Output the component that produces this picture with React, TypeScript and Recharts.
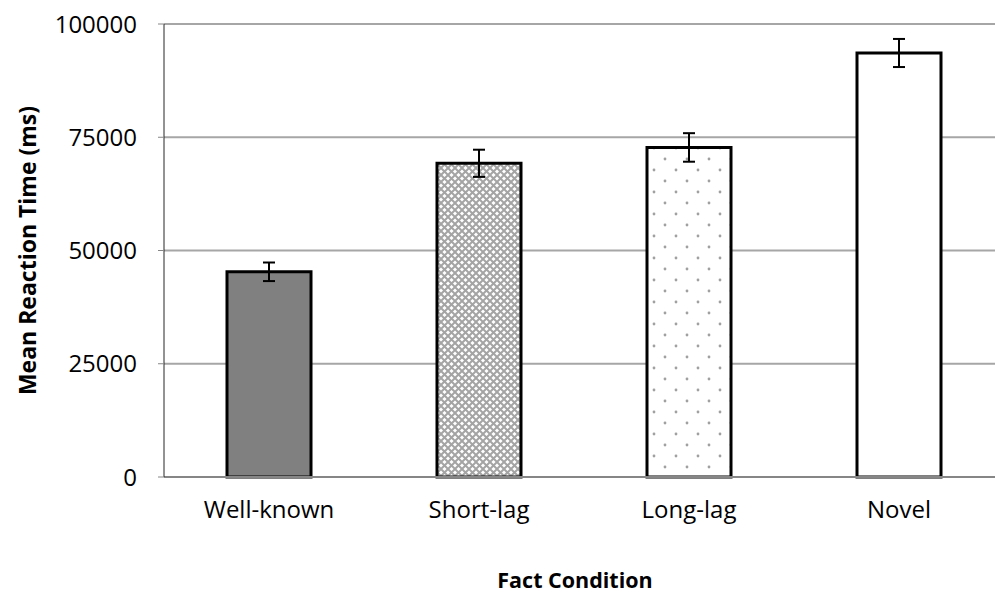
import { Bar, BarChart, CartesianGrid, Cell, ErrorBar, XAxis, YAxis } from 'recharts';

const conditions = ['Well-known', 'Short-lag', 'Long-lag', 'Novel'];
const meanRt = [45300, 69250, 72750, 93600];
const rtError = [2050, 3000, 3150, 3100];
const yTicks = [0, 25000, 50000, 75000, 100000];

const fills = ['#808080', 'url(#diamondFill)', 'url(#dotFill)', '#ffffff'];

const chartData = conditions.map((name, i) => ({ name, rt: meanRt[i], err: rtError[i] }));

const font = '"Open Sans", sans-serif';

export default function App() {
  return (
    <div style={{ position: 'absolute', left: 0, top: 0, width: 995, height: 596, overflow: 'hidden', background: '#fff' }}>
      <BarChart width={1004} height={596} data={chartData} margin={{ top: 24, right: 0, left: 64, bottom: 0 }}>
        <defs>
          {/* grey lattice with white diamonds */}
          <pattern id="diamondFill" width="7" height="7" patternUnits="userSpaceOnUse">
            <rect width="7" height="7" fill="#ffffff" />
            <path d="M0,0 L7,7 M7,0 L0,7" stroke="#a4a4a4" strokeWidth="2" />
          </pattern>
          {/* sparse staggered dots */}
          <pattern id="dotFill" width="22" height="22" patternUnits="userSpaceOnUse">
            <rect width="22" height="22" fill="#ffffff" />
            <circle cx="5" cy="5" r="1.4" fill="#a0a0a0" />
            <circle cx="16" cy="16" r="1.4" fill="#a0a0a0" />
          </pattern>
        </defs>
        <CartesianGrid vertical={false} stroke="#a6a6a6" strokeWidth={2} />
        <XAxis
          dataKey="name"
          height={119}
          axisLine={{ stroke: '#868686', strokeWidth: 2 }}
          tickLine={false}
          tickMargin={18}
          tick={{ fill: '#000', fontSize: 24, fontFamily: font }}
          label={{ value: 'Fact Condition', position: 'insideBottom', offset: 8, dx: -9, fill: '#000', fontSize: 21.5, fontWeight: 700, fontFamily: font }}
        />
        <YAxis
          width={100}
          domain={[0, 100000]}
          ticks={yTicks}
          interval={0}
          axisLine={{ stroke: '#262626', strokeWidth: 1 }}
          tickLine={{ stroke: '#868686' }}
          tickSize={6}
          tickMargin={21}
          tick={{ fill: '#000', fontSize: 24, fontFamily: font }}
          label={{ value: 'Mean Reaction Time (ms)', angle: -90, position: 'insideLeft', offset: -36, fill: '#000', fontSize: 23, fontWeight: 700, fontFamily: font, style: { textAnchor: 'middle' } }}
        />
        <Bar dataKey="rt" barSize={84} stroke="#000" strokeWidth={3} isAnimationActive={false}>
          {chartData.map((d, i) => (
            <Cell key={d.name} fill={fills[i]} />
          ))}
          <ErrorBar dataKey="err" width={6} strokeWidth={2} stroke="#000" direction="y" />
        </Bar>
      </BarChart>
    </div>
  );
}
